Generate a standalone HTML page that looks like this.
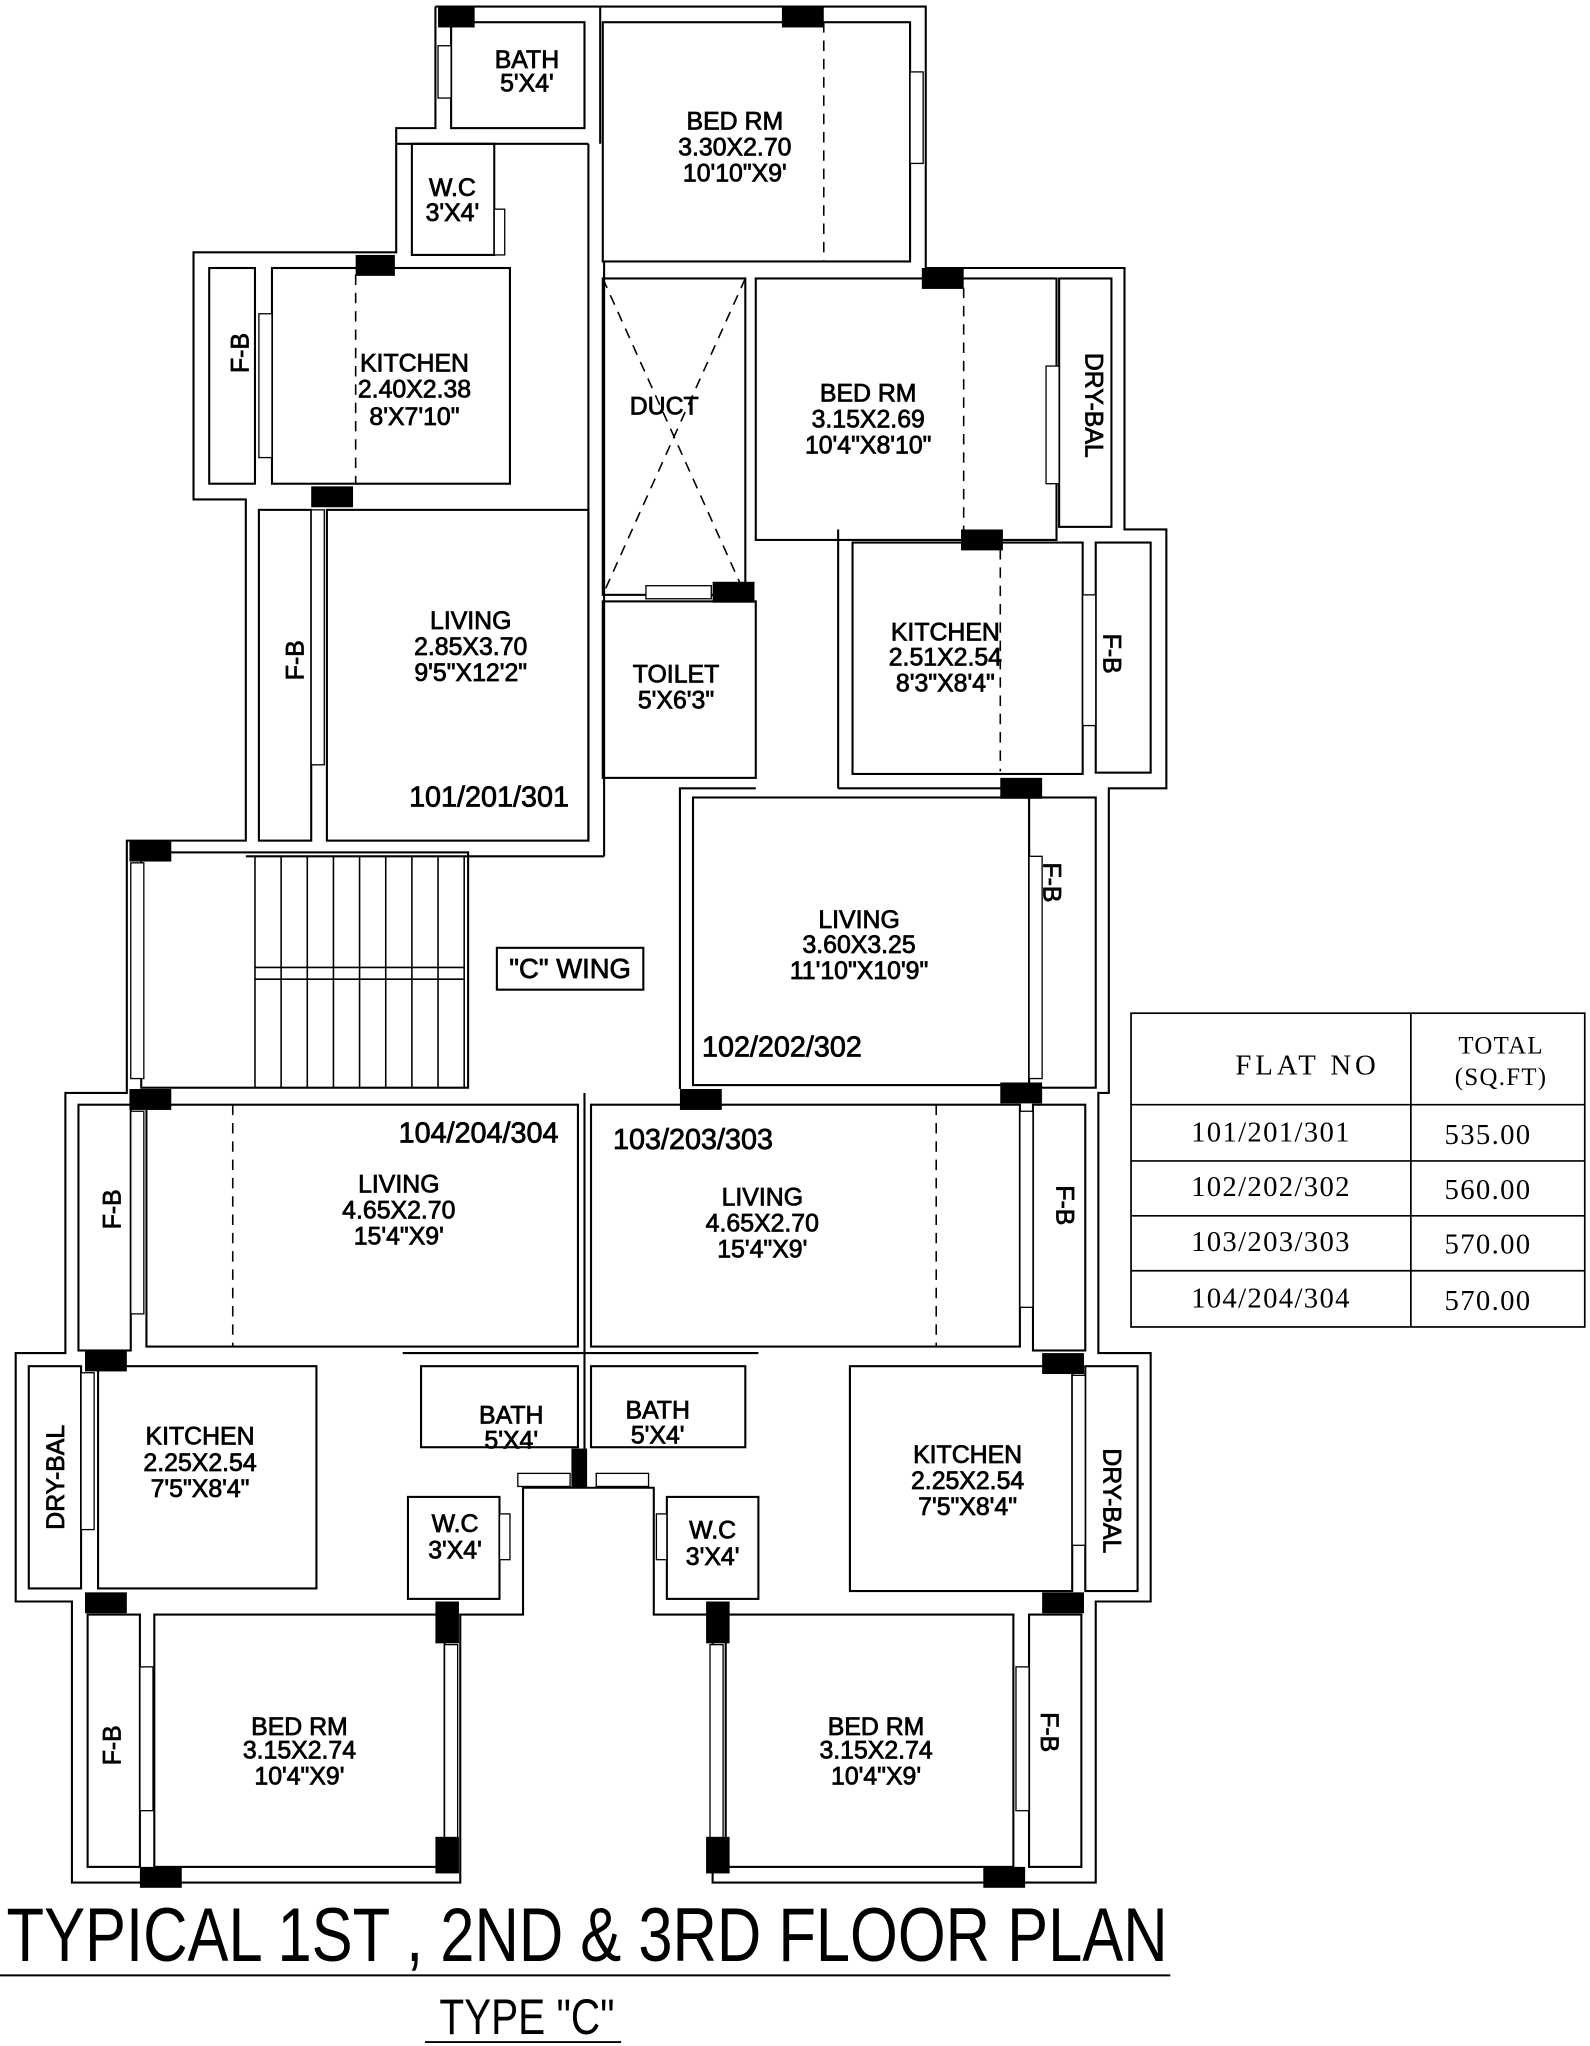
<!DOCTYPE html>
<html><head><meta charset="utf-8"><style>
html,body{margin:0;padding:0;background:#fff;}
svg{display:block;}
text{font-family:"Liberation Sans Narrow","Liberation Sans",sans-serif;fill:#000;}
.l{font-size:19px;text-anchor:middle;stroke:#000;stroke-width:0.6;}
.t{font-family:"Liberation Serif",serif;font-size:22px;text-anchor:middle;letter-spacing:1px;}
</style></head><body>
<svg width="1590" height="2046" viewBox="0 0 1216 1565" preserveAspectRatio="none" xmlns="http://www.w3.org/2000/svg">
<rect width="1216" height="1565" fill="#fff"/>
<g fill="none" stroke="#000" stroke-width="1.6">
<polyline points="333,5 708,5 708,205 860,205 860,405 892,405 892,603 848,603 848,836 840,836 840,1035 880,1035 880,1225 838,1225 838,1440 545,1440 545,1235 500,1235 500,1138 400,1138 400,1235 352,1235 352,1440 55,1440 55,1225 12,1225 12,1035 50,1035 50,836 97,836 97,643 188,643 188,382 148,382 148,193 303,193 303,98 333,98 333,5"/>
<rect x="345" y="17" width="102" height="81"/>
<rect x="461" y="17" width="235" height="183"/>
<line x1="459" y1="5" x2="459" y2="110"/>
<rect x="315" y="110" width="63" height="85"/>
<line x1="303" y1="110" x2="450" y2="110"/>
<line x1="450" y1="110" x2="450" y2="643"/>
<line x1="462" y1="200" x2="462" y2="655"/>
<rect x="160" y="205" width="35" height="165"/>
<rect x="208" y="205" width="182" height="165"/>
<rect x="198" y="390" width="40" height="253"/>
<rect x="250" y="390" width="200" height="253"/>
<line x1="188" y1="655" x2="462" y2="655"/>
<rect x="461" y="213" width="109" height="242"/>
<rect x="461" y="460" width="117" height="135"/>
<rect x="578" y="213" width="230" height="200"/>
<rect x="810" y="213" width="40" height="190"/>
<rect x="652" y="415" width="176" height="177"/>
<rect x="838" y="415" width="42" height="176"/>
<polyline points="641,603 641,405"/>
<line x1="641" y1="603" x2="787" y2="603"/>
<polyline points="578,603 520,603 520,833"/>
<rect x="530" y="610" width="257" height="220"/>
<rect x="787" y="610" width="51" height="222"/>
<rect x="108" y="652" width="250" height="180"/>
<rect x="380" y="725" width="112" height="32"/>
<rect x="60" y="845" width="40" height="188"/>
<rect x="112" y="845" width="330" height="185"/>
<rect x="452" y="845" width="328" height="185"/>
<rect x="790" y="845" width="40" height="188"/>
<line x1="447" y1="836" x2="447" y2="1108"/>
<rect x="22" y="1045" width="40" height="170"/>
<rect x="75" y="1045" width="167" height="170"/>
<rect x="322" y="1045" width="120" height="62"/>
<rect x="452" y="1045" width="118" height="62"/>
<line x1="308" y1="1035" x2="580" y2="1035"/>
<rect x="312" y="1145" width="70" height="78"/>
<rect x="510" y="1145" width="70" height="78"/>
<rect x="650" y="1045" width="170" height="172"/>
<rect x="830" y="1045" width="40" height="172"/>
<rect x="67" y="1235" width="40" height="193"/>
<rect x="118" y="1235" width="222" height="193"/>
<rect x="555" y="1235" width="220" height="193"/>
<rect x="787" y="1235" width="40" height="193"/>
</g>
<g stroke="#000" stroke-width="1.2" stroke-dasharray="8,6">
<line x1="630" y1="17" x2="630" y2="200"/><line x1="272" y1="210" x2="272" y2="370"/>
<line x1="737" y1="220" x2="737" y2="405"/><line x1="765" y1="420" x2="765" y2="590"/>
<line x1="178" y1="845" x2="178" y2="1030"/><line x1="716" y1="845" x2="716" y2="1030"/>
<line x1="461" y1="213" x2="570" y2="455"/><line x1="570" y1="213" x2="461" y2="455"/>
</g>
<g stroke="#000" stroke-width="1.2">
<line x1="195" y1="655" x2="195" y2="832"/>
<line x1="215" y1="655" x2="215" y2="832"/><line x1="235" y1="655" x2="235" y2="832"/>
<line x1="255" y1="655" x2="255" y2="832"/><line x1="275" y1="655" x2="275" y2="832"/>
<line x1="295" y1="655" x2="295" y2="832"/><line x1="315" y1="655" x2="315" y2="832"/>
<line x1="335" y1="655" x2="335" y2="832"/><line x1="355" y1="655" x2="355" y2="832"/>
<line x1="195" y1="740" x2="355" y2="740"/><line x1="195" y1="749" x2="355" y2="749"/>
</g>
<g fill="#fff" stroke="#000" stroke-width="1">
<rect x="335" y="35" width="10" height="40"/><rect x="696" y="55" width="10" height="70"/>
<rect x="378" y="160" width="8" height="35"/><rect x="198" y="240" width="10" height="110"/>
<rect x="238" y="390" width="10" height="195"/><rect x="800" y="280" width="10" height="90"/>
<rect x="828" y="455" width="10" height="100"/><rect x="494" y="448" width="50" height="10"/>
<rect x="787" y="655" width="10" height="170"/><rect x="100" y="660" width="10" height="165"/>
<rect x="100" y="850" width="10" height="155"/><rect x="780" y="850" width="10" height="150"/>
<rect x="62" y="1050" width="10" height="120"/><rect x="820" y="1052" width="10" height="130"/>
<rect x="396" y="1127" width="40" height="10"/><rect x="456" y="1127" width="40" height="10"/>
<rect x="382" y="1158" width="8" height="35"/><rect x="502" y="1158" width="8" height="35"/>
<rect x="107" y="1275" width="10" height="110"/><rect x="777" y="1275" width="10" height="110"/>
<rect x="340" y="1258" width="10" height="148"/><rect x="543" y="1258" width="10" height="148"/>
</g>
<g fill="#000">
<rect x="335" y="5" width="28" height="16"/><rect x="598" y="5" width="32" height="16"/>
<rect x="272" y="195" width="30" height="16"/><rect x="238" y="372" width="32" height="16"/>
<rect x="705" y="205" width="32" height="16"/><rect x="735" y="405" width="32" height="16"/>
<rect x="545" y="445" width="32" height="16"/><rect x="765" y="595" width="32" height="16"/>
<rect x="99" y="643" width="32" height="16"/><rect x="99" y="833" width="32" height="16"/>
<rect x="520" y="833" width="32" height="16"/><rect x="765" y="828" width="32" height="16"/>
<rect x="65" y="1033" width="32" height="16"/><rect x="797" y="1035" width="32" height="16"/>
<rect x="437" y="1108" width="12" height="30"/><rect x="65" y="1218" width="32" height="16"/>
<rect x="797" y="1218" width="32" height="16"/><rect x="333" y="1225" width="18" height="32"/>
<rect x="540" y="1225" width="18" height="32"/><rect x="333" y="1405" width="18" height="28"/>
<rect x="540" y="1405" width="18" height="28"/><rect x="107" y="1428" width="32" height="16"/>
<rect x="752" y="1428" width="32" height="16"/>
</g>
<text class="l" x="403" y="52">BATH</text><text class="l" x="403" y="70">5'X4'</text>
<text class="l" x="562" y="99">BED RM</text><text class="l" x="562" y="119">3.30X2.70</text><text class="l" x="562" y="139">10'10"X9'</text>
<text class="l" x="346" y="150">W.C</text><text class="l" x="346" y="169">3'X4'</text>
<text class="l" transform="translate(190,270) rotate(-90)">F-B</text>
<text class="l" x="317" y="284">KITCHEN</text><text class="l" x="317" y="304">2.40X2.38</text><text class="l" x="317" y="325">8'X7'10"</text>
<text class="l" x="508" y="317">DUCT</text>
<text class="l" x="664" y="307">BED RM</text><text class="l" x="664" y="327">3.15X2.69</text><text class="l" x="664" y="347">10'4"X8'10"</text>
<text class="l" transform="translate(830,310) rotate(90)">DRY-BAL</text>
<text class="l" x="360" y="481">LIVING</text><text class="l" x="360" y="501">2.85X3.70</text><text class="l" x="360" y="521">9'5"X12'2"</text>
<text class="l" transform="translate(232,505) rotate(-90)">F-B</text>
<text class="l" x="374" y="617" style="font-size:22px">101/201/301</text>
<text class="l" x="517" y="522">TOILET</text><text class="l" x="517" y="542">5'X6'3"</text>
<text class="l" x="723" y="490">KITCHEN</text><text class="l" x="723" y="509">2.51X2.54</text><text class="l" x="723" y="529">8'3"X8'4"</text>
<text class="l" transform="translate(844,500) rotate(90)">F-B</text>
<text class="l" x="436" y="748" style="font-size:21px">"C" WING</text>
<text class="l" x="657" y="710">LIVING</text><text class="l" x="657" y="729">3.60X3.25</text><text class="l" x="657" y="749">11'10"X10'9"</text>
<text class="l" transform="translate(798,675) rotate(90)">F-B</text>
<text class="l" x="598" y="808" style="font-size:22px">102/202/302</text>
<text class="l" x="366" y="874" style="font-size:22px">104/204/304</text>
<text class="l" x="530" y="879" style="font-size:22px">103/203/303</text>
<text class="l" x="305" y="912">LIVING</text><text class="l" x="305" y="932">4.65X2.70</text><text class="l" x="305" y="952">15'4"X9'</text>
<text class="l" x="583" y="922">LIVING</text><text class="l" x="583" y="942">4.65X2.70</text><text class="l" x="583" y="962">15'4"X9'</text>
<text class="l" transform="translate(92,925) rotate(-90)">F-B</text>
<text class="l" transform="translate(808,922) rotate(90)">F-B</text>
<text class="l" transform="translate(49,1130) rotate(-90)">DRY-BAL</text>
<text class="l" x="153" y="1105">KITCHEN</text><text class="l" x="153" y="1125">2.25X2.54</text><text class="l" x="153" y="1145">7'5"X8'4"</text>
<text class="l" x="391" y="1089">BATH</text><text class="l" x="391" y="1108">5'X4'</text>
<text class="l" x="503" y="1085">BATH</text><text class="l" x="503" y="1104">5'X4'</text>
<text class="l" x="740" y="1119">KITCHEN</text><text class="l" x="740" y="1139">2.25X2.54</text><text class="l" x="740" y="1159">7'5"X8'4"</text>
<text class="l" transform="translate(844,1148) rotate(90)">DRY-BAL</text>
<text class="l" x="348" y="1172">W.C</text><text class="l" x="348" y="1192">3'X4'</text>
<text class="l" x="545" y="1177">W.C</text><text class="l" x="545" y="1197">3'X4'</text>
<text class="l" transform="translate(92,1335) rotate(-90)">F-B</text>
<text class="l" x="229" y="1327">BED RM</text><text class="l" x="229" y="1345">3.15X2.74</text><text class="l" x="229" y="1365">10'4"X9'</text>
<text class="l" x="670" y="1327">BED RM</text><text class="l" x="670" y="1345">3.15X2.74</text><text class="l" x="670" y="1365">10'4"X9'</text>
<text class="l" transform="translate(796,1325) rotate(90)">F-B</text>
<g fill="none" stroke="#000" stroke-width="1.3">
<rect x="865" y="775" width="347" height="240"/>
<line x1="1079" y1="775" x2="1079" y2="1015"/>
<line x1="865" y1="845" x2="1212" y2="845"/><line x1="865" y1="888" x2="1212" y2="888"/>
<line x1="865" y1="930" x2="1212" y2="930"/><line x1="865" y1="972" x2="1212" y2="972"/>
</g>
<text class="t" x="1000" y="822" style="letter-spacing:3px">FLAT  NO</text>
<text class="t" x="1148" y="806" style="font-size:19px">TOTAL</text>
<text class="t" x="1148" y="830" style="font-size:19px">(SQ.FT)</text>
<text class="t" x="972" y="873">101/201/301</text><text class="t" x="1138" y="875">535.00</text>
<text class="t" x="972" y="915">102/202/302</text><text class="t" x="1138" y="917">560.00</text>
<text class="t" x="972" y="957">103/203/303</text><text class="t" x="1138" y="959">570.00</text>
<text class="t" x="972" y="1000">104/204/304</text><text class="t" x="1138" y="1002">570.00</text>
<text x="5" y="1500" style="font-size:58px" textLength="888" lengthAdjust="spacingAndGlyphs">TYPICAL 1ST , 2ND &amp; 3RD FLOOR PLAN</text>
<line x1="0" y1="1511" x2="895" y2="1511" stroke="#000" stroke-width="1.5"/>
<text x="336" y="1556" style="font-size:38px" textLength="134" lengthAdjust="spacingAndGlyphs">TYPE "C"</text>
<line x1="325" y1="1562" x2="475" y2="1562" stroke="#000" stroke-width="1.5"/>
</svg>
</body></html>
